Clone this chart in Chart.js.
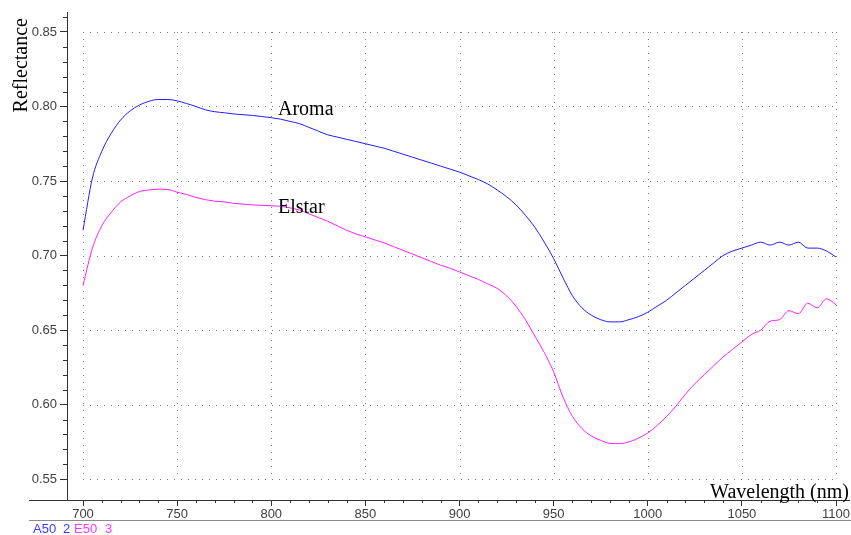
<!DOCTYPE html>
<html>
<head>
<meta charset="utf-8">
<script src="https://cdn.jsdelivr.net/npm/chart.js@4.4.0/dist/chart.umd.min.js"></script>
<style>
html, body { margin: 0; padding: 0; background: #fff; }
canvas { display: block; }
</style>
</head>
<body>
<canvas id="myChart" width="851" height="535"></canvas>
<script>
var wavelengths = [700, 705, 710, 715, 720, 725, 730, 735, 740, 745, 750, 755, 760, 765, 770, 775, 780, 785, 790, 795,
  800, 805, 810, 815, 820, 825, 830, 835, 840, 845, 850, 855, 860, 865, 870, 875, 880, 885, 890, 895,
  900, 905, 910, 915, 920, 925, 930, 935, 940, 945, 950, 955, 960, 965, 970, 975, 980, 985, 990, 995,
  1000, 1005, 1010, 1015, 1020, 1025, 1030, 1035, 1040, 1045, 1050, 1055, 1060, 1065, 1070, 1075, 1080, 1085, 1090, 1095, 1100];

var aroma = [0.717, 0.752, 0.770, 0.782, 0.791, 0.797, 0.801, 0.8035, 0.8047, 0.8047, 0.8038, 0.802, 0.800, 0.7978, 0.7965, 0.7958, 0.795, 0.7945, 0.794, 0.7933,
  0.7925, 0.7915, 0.790, 0.7885, 0.786, 0.7835, 0.781, 0.7795, 0.778, 0.7765, 0.775, 0.7735, 0.772, 0.770, 0.768, 0.766, 0.764, 0.762, 0.760, 0.758,
  0.756, 0.7535, 0.751, 0.748, 0.744, 0.7395, 0.734, 0.727, 0.719, 0.709, 0.698, 0.685, 0.673, 0.665, 0.660, 0.657, 0.6555, 0.6555, 0.657, 0.659,
  0.662, 0.666, 0.670, 0.675, 0.680, 0.685, 0.690, 0.695, 0.700, 0.703, 0.705, 0.707, 0.709, 0.707, 0.709, 0.707, 0.709, 0.705, 0.705, 0.703, 0.699];

var elstar = [0.680, 0.705, 0.720, 0.729, 0.736, 0.740, 0.743, 0.744, 0.7445, 0.7443, 0.7425, 0.741, 0.739, 0.7375, 0.7365, 0.736, 0.735, 0.7345, 0.734, 0.7337,
  0.7334, 0.733, 0.732, 0.7305, 0.728, 0.7255, 0.723, 0.720, 0.717, 0.7145, 0.7125, 0.7105, 0.7085, 0.706, 0.7035, 0.701, 0.6985, 0.696, 0.6935, 0.6915,
  0.689, 0.6865, 0.684, 0.681, 0.678, 0.673, 0.666, 0.657, 0.646, 0.635, 0.622, 0.605, 0.592, 0.584, 0.579, 0.576, 0.574, 0.5738, 0.575, 0.5775,
  0.581, 0.586, 0.592, 0.599, 0.607, 0.614, 0.620, 0.626, 0.632, 0.637, 0.642, 0.647, 0.650, 0.656, 0.657, 0.663, 0.661, 0.668, 0.665, 0.671, 0.667];

var xTicks = [700, 750, 800, 850, 900, 950, 1000, 1050, 1100];
var yTicks = [0.55, 0.60, 0.65, 0.70, 0.75, 0.80, 0.85];

function pairs(vals) {
  return wavelengths.map(function(w, i) { return { x: w, y: vals[i] }; });
}

var extras = {
  id: 'extras',
  beforeDatasetsDraw: function(chart) {
    var ctx = chart.ctx, sx = chart.scales.x, sy = chart.scales.y;
    var x0 = sx.getPixelForValue(xTicks[0]), x1 = sx.getPixelForValue(xTicks[xTicks.length - 1]);
    var y0 = sy.getPixelForValue(yTicks[yTicks.length - 1]), y1 = sy.getPixelForValue(yTicks[0]);
    ctx.save();
    ctx.strokeStyle = '#7a7a7a';
    ctx.lineWidth = 1;
    ctx.setLineDash([1, 6]);
    xTicks.forEach(function(v) {
      var px = Math.round(sx.getPixelForValue(v)) + 0.5;
      ctx.beginPath(); ctx.moveTo(px, y0); ctx.lineTo(px, y1); ctx.stroke();
    });
    yTicks.forEach(function(v) {
      var py = Math.round(sy.getPixelForValue(v)) + 0.5;
      ctx.beginPath(); ctx.moveTo(x0, py); ctx.lineTo(x1, py); ctx.stroke();
    });
    ctx.restore();
  },
  afterDraw: function(chart) {
    var ctx = chart.ctx, sx = chart.scales.x, sy = chart.scales.y, a = chart.chartArea;
    ctx.save();
    // minor ticks
    ctx.strokeStyle = '#333';
    ctx.lineWidth = 1;
    for (var k = 71; k <= 110; k++) {
      if (k % 5 === 0) continue;
      var px = Math.round(sx.getPixelForValue(k * 10)) + 0.5;
      ctx.beginPath(); ctx.moveTo(px, a.bottom); ctx.lineTo(px, a.bottom + 3); ctx.stroke();
    }
    for (var j = 56; j <= 86; j++) {
      if (j % 5 === 0) continue;
      var py = Math.round(sy.getPixelForValue(j / 100)) + 0.5;
      ctx.beginPath(); ctx.moveTo(a.left - 4, py); ctx.lineTo(a.left, py); ctx.stroke();
    }
    // axis extension to the left and lower rule
    ctx.beginPath(); ctx.moveTo(29, a.bottom + 0.5); ctx.lineTo(a.left, a.bottom + 0.5); ctx.stroke();
    ctx.strokeStyle = '#8a8a8a';
    ctx.beginPath(); ctx.moveTo(29, 520.5); ctx.lineTo(851, 520.5); ctx.stroke();

    // titles and labels
    ctx.fillStyle = '#000';
    ctx.font = '20px "Liberation Serif", "Times New Roman", serif';
    ctx.textBaseline = 'alphabetic';
    ctx.textAlign = 'left';
    ctx.fillText('Aroma', 278, 115);
    ctx.fillText('Elstar', 278, 213);
    ctx.textAlign = 'right';
    ctx.fillText('Wavelength (nm)', 849, 498);
    ctx.save();
    ctx.translate(27, 18);
    ctx.rotate(-Math.PI / 2);
    ctx.textAlign = 'right';
    ctx.fillText('Reflectance', 0, 0);
    ctx.restore();

    ctx.font = '13px "Liberation Sans", Arial, sans-serif';
    ctx.textAlign = 'left';
    ctx.fillStyle = '#3a3aff';
    ctx.fillText('A50', 33, 533);
    ctx.fillText('2', 63, 533);
    ctx.fillStyle = '#ff3aff';
    ctx.fillText('E50', 74, 533);
    ctx.fillText('3', 105, 533);
    ctx.restore();
  }
};

var ctx = document.getElementById('myChart').getContext('2d');
var chart = new Chart(ctx, {
  type: 'line',
  data: {
    datasets: [{
      label: 'Aroma',
      data: pairs(aroma),
      borderColor: '#1f1fff',
      borderWidth: 1,
      pointRadius: 0,
      cubicInterpolationMode: 'monotone'
    }, {
      label: 'Elstar',
      data: pairs(elstar),
      borderColor: '#ff1fff',
      borderWidth: 1,
      pointRadius: 0,
      cubicInterpolationMode: 'monotone'
    }]
  },
  options: {
    responsive: false,
    animation: false,
    devicePixelRatio: 1,
    layout: { padding: { top: 12, left: 0, right: 0, bottom: 0 } },
    plugins: { legend: { display: false }, tooltip: { enabled: false } },
    scales: {
      x: {
        type: 'linear',
        min: 691.5,
        max: 1107.4,
        afterBuildTicks: function(s) { s.ticks = xTicks.map(function(v) { return { value: v }; }); },
        afterFit: function(s) { s.height = 35; },
        ticks: {
          autoSkip: false,
          maxRotation: 0,
          padding: 1,
          color: '#404040',
          font: { family: '"Liberation Sans", Arial, sans-serif', size: 13 },
          callback: function(v) { return String(v); }
        },
        grid: { drawOnChartArea: false, tickLength: 6, color: '#333' },
        border: { color: '#333', width: 1 }
      },
      y: {
        min: 0.536,
        max: 0.8634,
        afterBuildTicks: function(s) { s.ticks = yTicks.map(function(v) { return { value: v }; }); },
        afterFit: function(s) { s.width = 67; },
        ticks: {
          padding: 3,
          color: '#404040',
          font: { family: '"Liberation Sans", Arial, sans-serif', size: 13 },
          callback: function(v) { return Number(v).toFixed(2); }
        },
        grid: { drawOnChartArea: false, tickLength: 7, color: '#333' },
        border: { color: '#333', width: 1 }
      }
    }
  },
  plugins: [extras]
});
</script>
</body>
</html>
